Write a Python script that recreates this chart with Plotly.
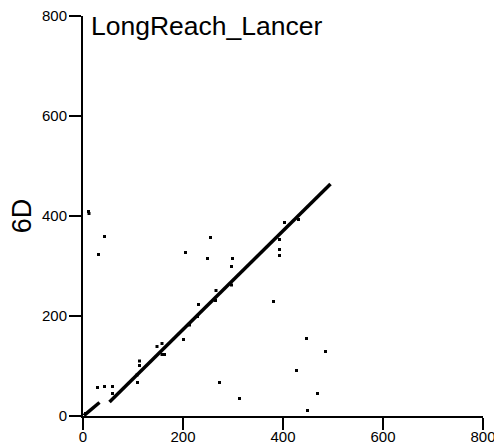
import plotly.graph_objects as go

# Diagonal match runs (start/end of each run), None separates runs
run_x = [2, 33, None, 53, 495]
run_y = [1, 27, None, 28, 464]

# Scattered dots
dot_x = [11, 43, 31, 29, 43, 59, 59, 148, 158, 158, 163, 113, 113, 109, 201, 205, 213, 231,
         229, 249, 255, 265, 266, 273, 297, 299, 297, 313, 381, 393, 393, 393, 403, 431,
         447, 485, 427, 469, 449, 5, 108, 12]
dot_y = [409, 359, 323, 57, 59, 59, 45, 139, 145, 123, 123, 110, 101, 67, 153, 327, 182, 223,
         199, 315, 357, 231, 251, 67, 299, 315, 262, 35, 229, 353, 333, 321, 387, 393,
         155, 129, 91, 45, 11, 5, 82, 405]

tick_vals = [0, 200, 400, 600, 800]

fig = go.Figure()
fig.add_trace(go.Scatter(x=run_x, y=run_y, mode="lines",
                         line=dict(color="black", width=3.5), connectgaps=False,
                         hoverinfo="skip", showlegend=False))
fig.add_trace(go.Scatter(x=dot_x, y=dot_y, mode="markers",
                         marker=dict(symbol="square", size=3, color="black",
                                     line=dict(width=0)),
                         showlegend=False))

axis_common = dict(range=[0, 800], tickvals=tick_vals, ticks="outside", ticklen=12,
                   tickwidth=2, tickcolor="black", showline=True, linecolor="black",
                   linewidth=2, showgrid=False, zeroline=False, automargin=False,
                   ticklabeloverflow="allow",
                   tickfont=dict(family="Liberation Sans, Arial", size=15, color="black"))

fig.update_xaxes(ticklabelstandoff=-6, **axis_common)
fig.update_yaxes(ticklabelstandoff=-1, **axis_common)

# page body has an 8px default margin, so the figure is offset to compensate
fig.update_layout(
    width=502, height=445,
    margin=dict(l=75, r=27, t=8, b=37),
    plot_bgcolor="white", paper_bgcolor="white",
    annotations=[
        dict(text="LongReach_Lancer", xref="paper", yref="paper", x=0.014, y=0.975,
             xanchor="left", yanchor="middle", showarrow=False,
             font=dict(family="Liberation Sans, Arial", size=26.5, color="black")),
        dict(text="6D", xref="paper", yref="paper", x=-0.152, y=0.5, textangle=-90,
             xanchor="center", yanchor="middle", showarrow=False,
             font=dict(family="Liberation Sans, Arial", size=27, color="black")),
    ],
)

fig.write_html("out.html")
